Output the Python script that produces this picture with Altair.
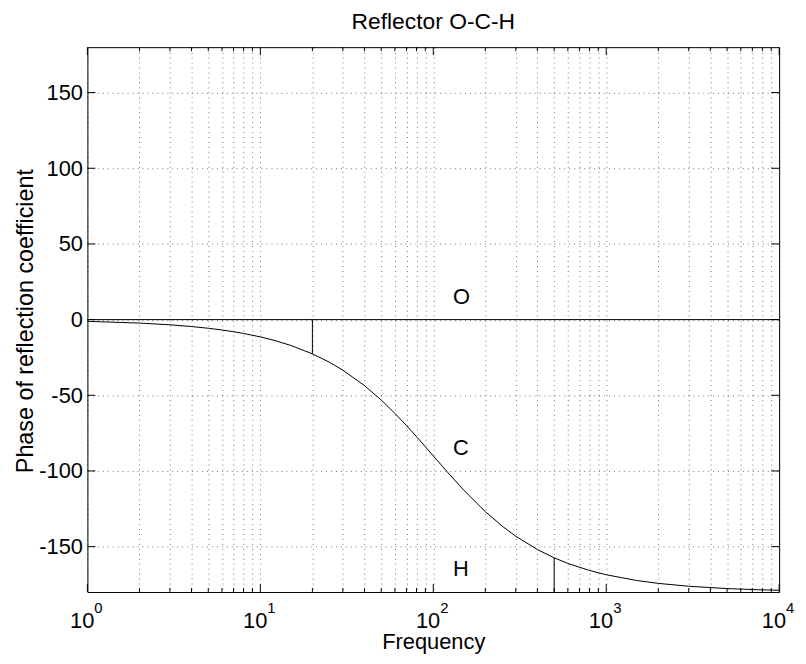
import altair as alt
import pandas as pd

# Curve (frequency, phase in degrees)
curve_freq = [1, 2, 3, 4, 5, 6, 7, 8, 10, 12, 15, 20, 25, 30, 40, 50, 60, 70, 80,
              100, 120, 150, 200, 250, 300, 400, 500, 600, 800, 1000, 1500, 2000,
              3000, 5000, 7000, 10000]
curve_phase = [-1.15, -2.29, -3.44, -4.58, -5.72, -6.87, -8.01, -9.15, -11.42, -13.69,
               -17.06, -22.62, -28.07, -33.40, -43.60, -53.13, -61.93, -69.98, -77.32,
               -90.0, -100.39, -112.62, -126.87, -136.40, -143.13, -151.93, -157.38,
               -161.08, -165.75, -168.58, -172.37, -174.28, -176.18, -177.71, -178.36,
               -178.85]

# Zero-phase line "O"
zero_freq = [1, 10000]
zero_phase = [0, 0]

# Vertical marker segments
marker_freq = [20, 500]
marker_from = [0, -180]
marker_to = [-22.62, -157.38]

# Text labels
label_text = ["O", "C", "H"]
label_freq = [130, 130, 130]
label_phase = [15, -85, -165]

# Axis ticks
decades = [1, 10, 100, 1000, 10000]
decade_exp = ["0", "1", "2", "3", "4"]
minor_x = [m * d for d in [1, 10, 100, 1000] for m in range(2, 10)]
grid_x = sorted(decades + minor_x)
y_ticks = [-150, -100, -50, 0, 50, 100, 150]

W, H = 697, 549
FONT = "Liberation Sans"

curve_df = pd.DataFrame({"freq": curve_freq, "phase": curve_phase})
zero_df = pd.DataFrame({"freq": zero_freq, "phase": zero_phase})
marker_df = pd.DataFrame({"freq": marker_freq, "phase": marker_from, "phase2": marker_to})
label_df = pd.DataFrame({"freq": label_freq, "phase": label_phase, "t": label_text})
dec_df = pd.DataFrame({"freq": decades, "e": decade_exp, "base": ["10"] * len(decades)})
minor_df = pd.DataFrame({"freq": minor_x})
yt_df = pd.DataFrame({"phase": y_ticks})

xs = alt.Scale(type="log", domain=[1, 10000], nice=False)
ys = alt.Scale(domain=[-180, 180], nice=False, zero=False)

x_axis = alt.Axis(values=grid_x, grid=True, labels=False, ticks=False, domain=False,
                  title="Frequency", titleFont=FONT, titleFontSize=22,
                  titleFontWeight="normal", titleColor="black",
                  titleX=W / 2, titleY=57, titleBaseline="alphabetic", titleAlign="center",
                  gridColor="black", gridOpacity=0.55, gridDash=[1, 4], gridWidth=1)
y_axis = alt.Axis(values=y_ticks, grid=True, ticks=False, domain=False,
                  labelFont=FONT, labelFontSize=22, labelColor="black", labelPadding=5,
                  labelExpr="replace(datum.label, '\u2212', '-')",
                  title="Phase of reflection coefficient", titleFont=FONT, titleFontSize=23.5,
                  titleFontWeight="normal", titleColor="black",
                  titleX=-55, titleY=H / 2 + 1, titleAngle=270, titleBaseline="alphabetic",
                  titleAlign="center",
                  gridColor="black", gridOpacity=0.55, gridDash=[1, 4], gridWidth=1)

X = alt.X("freq:Q", scale=xs, axis=x_axis)
Y = alt.Y("phase:Q", scale=ys, axis=y_axis)

curve = alt.Chart(curve_df).mark_line(color="black", strokeWidth=1).encode(x=X, y=Y)
zero = alt.Chart(zero_df).mark_line(color="black", strokeWidth=1).encode(x=X, y=Y)
markers = alt.Chart(marker_df).mark_rule(color="black", strokeWidth=1).encode(
    x=X, y=Y, y2="phase2:Q")
labels = alt.Chart(label_df).mark_text(font=FONT, fontSize=22, color="black",
                                       align="left", baseline="middle").encode(
    x=X, y=Y, text="t:N")

# inward ticks on all four sides
maj_b = alt.Chart(dec_df).mark_rule(color="black").encode(
    x=X, y=alt.value(H), y2=alt.value(H - 8))
maj_t = alt.Chart(dec_df).mark_rule(color="black").encode(
    x=X, y=alt.value(0), y2=alt.value(8))
min_b = alt.Chart(minor_df).mark_rule(color="black").encode(
    x=X, y=alt.value(H), y2=alt.value(H - 4))
min_t = alt.Chart(minor_df).mark_rule(color="black").encode(
    x=X, y=alt.value(0), y2=alt.value(4))
yt_l = alt.Chart(yt_df).mark_rule(color="black").encode(
    y=Y, x=alt.value(0), x2=alt.value(8))
yt_r = alt.Chart(yt_df).mark_rule(color="black").encode(
    y=Y, x=alt.value(W), x2=alt.value(W - 8))

# x tick labels 10^n
base_lbl = alt.Chart(dec_df).mark_text(font=FONT, fontSize=22, color="black",
                                       align="right", baseline="alphabetic", dx=7).encode(
    x=X, y=alt.value(H + 36), text="base:N")
exp_lbl = alt.Chart(dec_df).mark_text(font=FONT, fontSize=15, color="black",
                                      align="left", baseline="alphabetic", dx=7).encode(
    x=X, y=alt.value(H + 21), text="e:N")

chart = alt.layer(
    curve, zero, markers, labels, maj_b, maj_t, min_b, min_t, yt_l, yt_r, base_lbl, exp_lbl
).properties(
    width=W, height=H,
    autosize="none",
    padding={"left": 80, "top": 37, "right": 19, "bottom": 64},
    title=alt.TitleParams("Reflector O-C-H", font=FONT, fontSize=23, fontWeight="normal",
                          color="black", anchor="middle", offset=13),
    background="white",
).configure_view(stroke="black", strokeWidth=1)

chart.save("out.html", embed_options={"renderer": "svg", "actions": False})
